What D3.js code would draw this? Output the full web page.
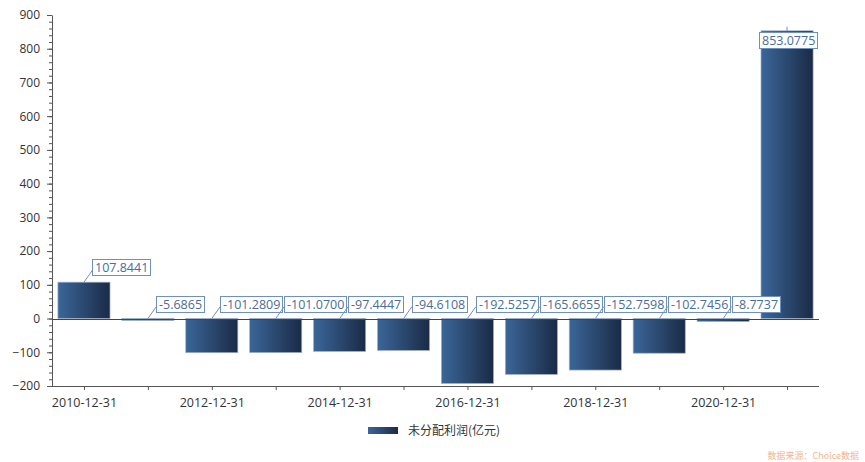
<!DOCTYPE html>
<html>
<head>
<meta charset="utf-8">
<script src="https://cdn.jsdelivr.net/npm/d3@7"></script>
<style>
  body { margin: 0; background: #fff; }
  svg { display: block; font-family: "Open Sans", "Noto Sans", sans-serif; }
</style>
</head>
<body>
<svg width="865" height="462"></svg>
<script>
const categories = ['2010-12-31', '2011-12-31', '2012-12-31', '2013-12-31', '2014-12-31', '2015-12-31',
                    '2016-12-31', '2017-12-31', '2018-12-31', '2019-12-31', '2020-12-31', '2021-12-31'];
const values = [107.8441, -5.6865, -101.2809, -101.0700, -97.4447, -94.6108,
                -192.5257, -165.6655, -152.7598, -102.7456, -8.7737, 853.0775];
const yTicks = [-200, -100, 0, 100, 200, 300, 400, 500, 600, 700, 800, 900];
const seriesName = '未分配利润(亿元)';
const source = '数据来源：Choice数据';

const plotLeft = 52, plotRight = 819, plotTop = 15, plotBottom = 386;

const svg = d3.select('svg');

const x = d3.scaleBand().domain(categories).range([plotLeft, plotRight]).paddingInner(0.185).paddingOuter(0.0925);
const xc = d3.scalePoint().domain(categories).range([plotLeft, plotRight]).padding(0.5);
const y = d3.scaleLinear().domain([-200, 900]).range([plotBottom, plotTop]);

// gradient for bars
const grad = svg.append('defs').append('linearGradient').attr('id', 'barGrad')
  .attr('x1', '0%').attr('x2', '100%').attr('y1', '0%').attr('y2', '0%');
grad.append('stop').attr('offset', '0%').attr('stop-color', '#3b6699');
grad.append('stop').attr('offset', '100%').attr('stop-color', '#1a2b46');

// y axis with minor ticks
const yMinor = d3.range(-200, 901, 20);
svg.append('g').attr('transform', `translate(${plotLeft},0)`)
  .call(d3.axisLeft(y).tickValues(yMinor).tickSize(3).tickFormat(''))
  .call(g => g.select('.domain').remove())
  .call(g => g.selectAll('line').attr('stroke', '#555'));

svg.append('g').attr('transform', `translate(${plotLeft},0)`)
  .call(d3.axisLeft(y).tickValues(yTicks).tickSize(5).tickSizeOuter(0).tickPadding(7))
  .call(g => g.select('.domain').attr('stroke', '#555'))
  .call(g => g.selectAll('line').attr('stroke', '#555'))
  .call(g => g.selectAll('text').attr('font-size', 12).attr('fill', '#333').attr('font-family', '"Open Sans", sans-serif'));

// x axis at bottom
svg.append('g').attr('transform', `translate(0,${plotBottom})`)
  .call(d3.axisBottom(xc).tickSize(4).tickSizeOuter(0).tickPadding(8)
    .tickFormat((d, i) => i % 2 === 0 ? d : ''))
  .call(g => g.select('.domain').attr('stroke', '#555').attr('d', `M${plotLeft},0.5H${plotRight}`))
  .call(g => g.selectAll('line').attr('stroke', '#555'))
  .call(g => g.selectAll('text').attr('font-size', 12.5).attr('fill', '#333').attr('font-family', '"Open Sans", sans-serif'));

// bars
svg.append('g').selectAll('rect').data(values).join('rect')
  .attr('x', (d, i) => x(categories[i]))
  .attr('width', x.bandwidth())
  .attr('y', d => y(Math.max(0, d)))
  .attr('height', d => Math.abs(y(d) - y(0)))
  .attr('fill', 'url(#barGrad)')
  .attr('stroke', '#9fb0c8')
  .attr('stroke-width', 0.7);

// zero line
svg.append('line')
  .attr('x1', plotLeft).attr('x2', plotRight)
  .attr('y1', Math.round(y(0)) + 0.5).attr('y2', Math.round(y(0)) + 0.5)
  .attr('stroke', '#444');

// data labels
const labels = svg.append('g');
values.forEach((v, i) => {
  const cx = xc(categories[i]);
  const anchorY = v > 0 ? y(v) : y(0);
  const txt = v.toFixed(4);
  const g = labels.append('g');
  const t = g.append('text').text(txt)
    .attr('font-size', 12.5).attr('fill', '#4a6c9c')
    .attr('font-family', '"Open Sans", sans-serif');
  const w = t.node().getComputedTextLength() + 5;
  const h = 16;
  let bx = cx + 8.5, by = anchorY - 7 - h;
  let lx2 = bx, ly2 = by + h - 5;
  if (bx + w > plotRight - 4 || by < plotTop) {
    // pushed back inside the plot, like the last bar
    bx = cx - w / 2 + 1;
    by = anchorY + 1;
    lx2 = cx; ly2 = anchorY - 4;
  }
  g.insert('line', 'text')
    .attr('x1', cx).attr('y1', anchorY).attr('x2', lx2).attr('y2', ly2)
    .attr('stroke', '#6f8fbf').attr('stroke-width', 1);
  g.insert('rect', 'text')
    .attr('x', Math.round(bx) + 0.5).attr('y', Math.round(by) + 0.5)
    .attr('width', Math.round(w)).attr('height', h)
    .attr('fill', '#fff').attr('stroke', '#6f8fbf').attr('stroke-width', 1);
  t.attr('x', Math.round(bx) + 3).attr('y', Math.round(by) + 12.5);
});

// legend
const lg = svg.append('g').attr('transform', 'translate(368,427)');
lg.append('rect').attr('width', 30).attr('height', 7).attr('fill', 'url(#barGrad)');
lg.append('text').attr('x', 40).attr('y', 8).text(seriesName)
  .attr('font-size', 12).attr('fill', '#333')
  .attr('font-family', '"Noto Sans CJK SC", sans-serif');

// source watermark
svg.append('text').attr('x', 859).attr('y', 459).attr('text-anchor', 'end')
  .text(source).attr('font-size', 9).attr('fill', '#f6b48c')
  .attr('font-family', '"Noto Sans CJK SC", sans-serif');
</script>
</body>
</html>
